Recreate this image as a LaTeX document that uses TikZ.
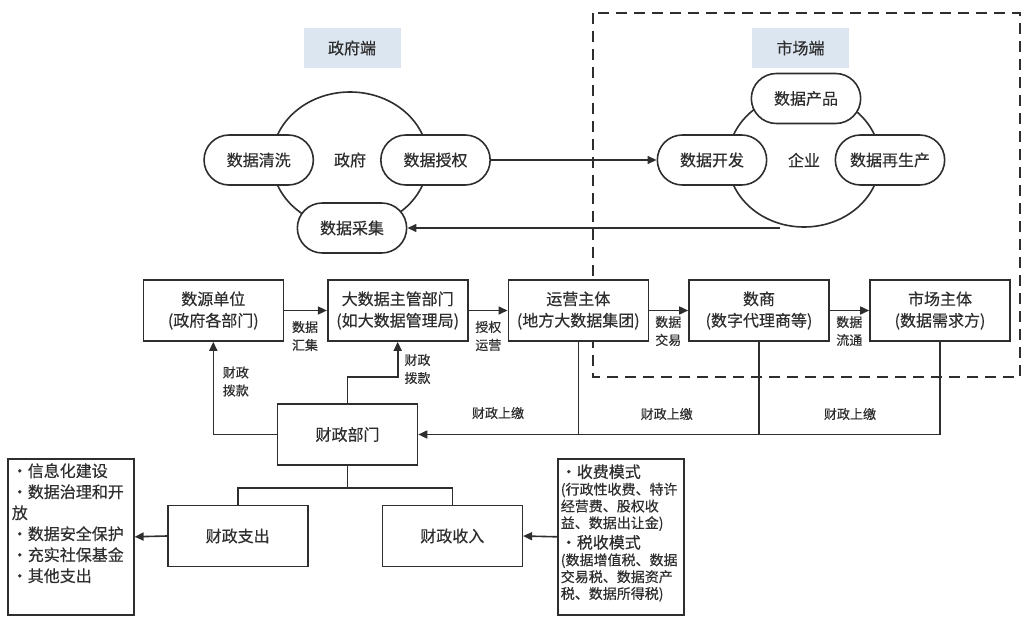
\documentclass[tikz,border=0pt]{standalone}
\usepackage{fontspec}
\setmainfont{Noto Sans CJK SC}[FakeBold=0.4]
\usepackage{xcolor}
\usetikzlibrary{arrows.meta, shapes.misc, shapes.geometric, positioning}
\definecolor{ink}{HTML}{2E2E2E}
\definecolor{tagblue}{HTML}{DCE6F1}
\tikzset{
  pill/.style={draw, rounded rectangle, fill=white, minimum width=116pt, minimum height=50pt, font=\fontsize{16}{19}\selectfont},
  unit/.style={draw, rectangle, fill=white, minimum width=140pt, minimum height=61pt, align=center, inner sep=2pt, font=\fontsize{16}{21.5}\selectfont},
  sidetag/.style={fill=tagblue, minimum width=97pt, minimum height=40pt, font=\fontsize{16}{19}\selectfont},
  tag/.style={align=center, inner sep=1pt, font=\fontsize{13}{18}\selectfont},
  flow/.style={-{Triangle[length=9pt, width=8pt]}},
}
\begin{document}
\begin{tikzpicture}[x=1pt, y=-1pt, line width=1.6pt, color=ink]
\useasboundingbox (0,0) rectangle (1023,618);
% market side frame
\draw[dash pattern=on 11pt off 7pt] (593,13) rectangle (1020,377);
\node[sidetag] (govtag) at (352,48) {政府端};
\node[sidetag] (mkttag) at (800.5,48) {市场端};
% government and enterprise circles
\node[draw, ellipse, inner sep=0, minimum width=156pt, minimum height=136pt, font=\fontsize{16}{19}\selectfont] (gov) at (350,160) {政府};
\node[draw, ellipse, inner sep=0, minimum width=152pt, minimum height=134pt, font=\fontsize{16}{19}\selectfont] (firm) at (804,160) {企业};
\node[pill] (clean) at (258.7,160) {数据清洗};
\node[pill] (grant) at (435.5,160) {数据授权};
\node[pill] (collect) at (352,228) {数据采集};
\node[pill] (develop) at (712,160) {数据开发};
\node[pill] (product) at (806,98.5) {数据产品};
\node[pill] (regen) at (890,160) {数据再生产};
\coordinate (firmout) at (780,228);
\draw[flow] (grant.east) -- (develop.west);
\draw[flow] (firmout) -- (collect.east);
% data chain
\node[unit] (source) at (213.3,310.5) {数源单位\\(政府各部门)};
\node[unit] (bigdata) at (397.7,310.5) {大数据主管部门\\(如大数据管理局)};
\node[unit] (operator) at (578.3,310.5) {运营主体\\(地方大数据集团)};
\node[unit] (broker) at (759,310.5) {数商\\(数字代理商等)};
\node[unit] (buyer) at (940,310.5) {市场主体\\(数据需求方)};
\draw[flow] (source) -- (bigdata);
\draw[flow] (bigdata) -- (operator);
\draw[flow] (operator) -- (broker);
\draw[flow] (broker) -- (buyer);
\node[tag] (gatherlbl) at (305,336) {数据\\汇集};
\node[tag] (grantlbl) at (488.3,336) {授权\\运营};
\node[tag] (tradelbl) at (668.3,331) {数据\\交易};
\node[tag] (circlbl) at (849.3,331) {数据\\流通};
% finance
\node[unit] (finance) at (347.5,434.5) {财政部门};
\draw[flow] (finance.west) -| (source.south);
\draw[flow] (finance.north) -- ++(0,-26) -| (bigdata.south);
\node[tag] (fund1) at (235.8,381.5) {财政\\拨款};
\node[tag] (fund2) at (417.5,369) {财政\\拨款};
\draw[flow] (buyer.south) |- (finance.east);
\draw (operator.south) -- (operator.south |- finance.east);
\draw (broker.south) -- (broker.south |- finance.east);
\node[tag] (pay1) at (498,413) {财政上缴};
\node[tag] (pay2) at (666.7,414) {财政上缴};
\node[tag] (pay3) at (850,414) {财政上缴};
% spending and income
\node[unit] (spend) at (237.7,536) {财政支出};
\node[unit] (income) at (452.3,536) {财政收入};
\draw (finance.south) -- ++(0,22) coordinate (split);
\draw (split) -| (spend.north);
\draw (split) -| (income.north);
\node[draw, minimum width=126pt, minimum height=156pt, anchor=north west] (spendlist) at (7,458) {};
\node[anchor=north west, align=left, inner sep=0, font=\fontsize{16}{21}\selectfont] (spendtext) at (11,462.5)
  {・信息化建设\\・数据治理和开\\放\\・数据安全保护\\・充实社保基金\\・其他支出};
\node[draw, minimum width=126pt, minimum height=156pt, anchor=north west] (incomelist) at (557,458) {};
\node[anchor=north west, align=left, inner sep=0, font=\fontsize{14}{16.8}\selectfont] (incometext) at (560,463.5)
  {{\fontsize{16}{18}\selectfont ・收费模式}\\(行政性收费、特许\\经营费、股权收\\益、数据出让金)\\[3.5pt]
   {\fontsize{16}{18}\selectfont ・税收模式}\\(数据增值税、数据\\交易税、数据资产\\税、数据所得税)};
\draw[flow] (spend.west) -- (spendlist.east);
\draw[flow] (incomelist.west) -- (income.east);
\end{tikzpicture}
\end{document}
